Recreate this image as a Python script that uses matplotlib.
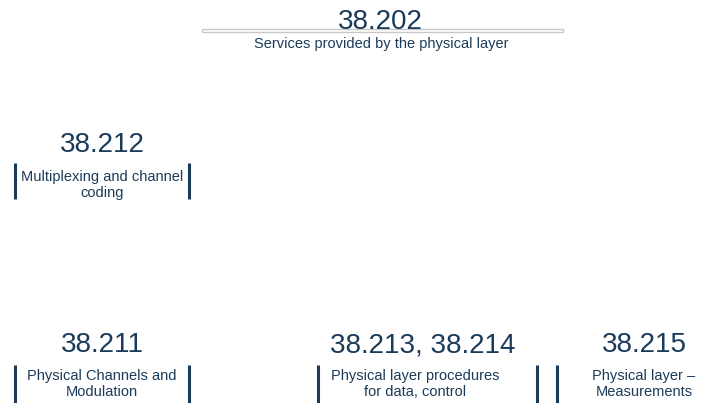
import matplotlib
matplotlib.use('Agg')
import matplotlib.pyplot as plt
from matplotlib.patches import Rectangle

plt.rcParams['font.family'] = ['Liberation Sans', 'DejaVu Sans']

# spec numbers and what they cover
specs = ['38.202', '38.212', '38.211', '38.213, 38.214', '38.215']
descriptions = [
    'Services provided by the physical layer',
    'Multiplexing and channel\ncoding',
    'Physical Channels and\nModulation',
    'Physical layer procedures\nfor data, control',
    'Physical layer –\nMeasurements',
]

# layout in pixel coords (x centre of title, x centre of text, title y, text y, box left, box right, box top, box bottom)
title_x = [380, 102, 102, 423, 644]
text_x = [381, 102, 102, 415, 644]
title_y = [22, 145, 345, 345, 345]
text_y = [44, 185, 384, 384, 384]
box_left = [None, 15, 15, 318, 557]
box_right = [None, 189, 189, 537, 731]
box_top = [None, 163, 365, 365, 365]
box_bottom = [None, 199, 403, 403, 403]
clip_bottom = [None, 197, 403, 403, 403]

navy = '#1b3b5a'

fig = plt.figure(figsize=(7.25, 4.03), dpi=100)
ax = fig.add_axes([0, 0, 1, 1])
ax.set_xlim(0, 725)
ax.set_ylim(403, 0)
ax.axis('off')

# thin outlined strip under the top title
ax.add_patch(Rectangle((202, 29), 361, 3, facecolor='white', edgecolor='#c8c8c8', linewidth=1))

for i in range(len(specs)):
    ax.text(title_x[i], title_y[i], specs[i], ha='center', va='center',
            fontsize=20, color=navy)
    t = ax.text(text_x[i], text_y[i], descriptions[i], ha='center', va='center',
                fontsize=10.5, color=navy, linespacing=1.1)
    if box_left[i] is not None:
        for bx in (box_left[i], box_right[i]):
            ax.plot([bx, bx], [box_top[i], box_bottom[i]], color=navy,
                    linewidth=2.2, solid_capstyle='butt')
        clip = Rectangle((box_left[i], box_top[i]), box_right[i] - box_left[i],
                         clip_bottom[i] - box_top[i], transform=ax.transData)
        t.set_clip_path(clip)

fig.savefig('out.png', dpi=100)
